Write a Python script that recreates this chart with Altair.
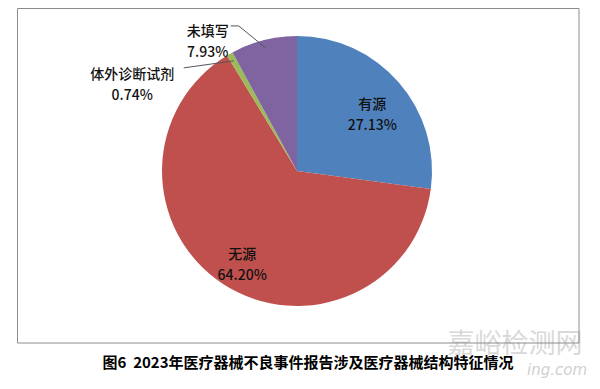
import altair as alt
import pandas as pd

# ---- data ----
categories = ["有源", "无源", "体外诊断试剂", "未填写"]
shares = [27.13, 64.20, 0.74, 7.93]
colors = ["#4F81BD", "#C0504D", "#9BBB59", "#8064A2"]
caption = "图6\u00a0\u00a02023年医疗器械不良事件报告涉及医疗器械结构特征情况"
watermark = "嘉峪检测网"
watermark2 = "ing.com"

df = pd.DataFrame({"cat": categories, "share": shares, "order": list(range(len(categories)))})

W, H = 584, 373
CX, CY, R = 289, 163, 135
FONT = "Noto Sans CJK SC"

base = (
    alt.Chart(df)
    .transform_window(cum="sum(share)", sort=[alt.SortField("order")], frame=[None, 0])
    .transform_joinaggregate(total="sum(share)")
    .transform_calculate(
        mid="(datum.cum - datum.share/2) / datum.total * 2 * PI",
        label="datum.cat + '|' + format(datum.share, '.2f') + '%'",
    )
    .transform_calculate(
        ex=f"{CX} + 127*sin(datum.mid)",
        ey=f"{CY} - 127*cos(datum.mid)",
        ix=f"{CX} + 100*sin(datum.mid)",
        iy=f"{CY} - 100*cos(datum.mid)",
    )
)

pie = (
    alt.Chart(df)
    .mark_arc(outerRadius=R)
    .encode(
        theta=alt.Theta("share:Q", stack=True),
        color=alt.Color("cat:N", scale=alt.Scale(domain=categories, range=colors), legend=None),
        order=alt.Order("order:Q"),
        x=alt.value(CX),
        y=alt.value(CY),
    )
)

txt_style = dict(lineBreak="|", lineHeight=21, fontSize=14, font=FONT, fontWeight=500, color="#111111")

inside = (
    base.transform_filter(alt.FieldOneOfPredicate(field="cat", oneOf=["有源", "无源"]))
    .mark_text(**txt_style)
    .encode(
        x=alt.X("ix:Q", scale=None, axis=None),
        y=alt.Y("iy:Q", scale=None, axis=None),
        text="label:N",
    )
)

def out_label(cat, dx, dy):
    return (
        base.transform_filter(alt.FieldEqualPredicate(field="cat", equal=cat))
        .mark_text(dx=dx, dy=dy, **txt_style)
        .encode(
            x=alt.X("ex:Q", scale=None, axis=None),
            y=alt.Y("ey:Q", scale=None, axis=None),
            text="label:N",
        )
    )

def leader(cat, x1off, y1off, x2off, y2off):
    return (
        base.transform_filter(alt.FieldEqualPredicate(field="cat", equal=cat))
        .transform_calculate(
            lx1=f"datum.ex + ({x1off})", ly1=f"datum.ey + ({y1off})",
            lx2=f"datum.ex + ({x2off})", ly2=f"datum.ey + ({y2off})",
        )
        .mark_rule(color="#555555", strokeWidth=1)
        .encode(
            x=alt.X("lx1:Q", scale=None, axis=None),
            y=alt.Y("ly1:Q", scale=None, axis=None),
            x2="lx2:Q",
            y2="ly2:Q",
        )
    )

ivd_text = out_label("体外诊断试剂", -101.5, 14.5)
ivd_line = leader("体外诊断试剂", 0, 0, -50, 7)
na_text = out_label("未填写", -58, -15.5)
na_line1 = leader("未填写", 0, 0, -27, -22)
na_line2 = leader("未填写", -27, -22, -35, -22)

one = alt.Data(values=[{}])

frame = (
    alt.Chart(one)
    .mark_rect(fill=None, stroke="#8c8c8c", strokeWidth=1)
    .encode(x=alt.value(9.5), x2=alt.value(571), y=alt.value(0.5), y2=alt.value(335))
)

wm = (
    alt.Chart(one)
    .mark_text(text=watermark, fontSize=27, font=FONT, color="#d9d9d9")
    .encode(x=alt.value(507), y=alt.value(337))
)
wm2 = (
    alt.Chart(one)
    .mark_text(text=watermark2, fontSize=15, font="DejaVu Sans", fontStyle="italic", color="#d0d0d0")
    .encode(x=alt.value(549), y=alt.value(362))
)

cap = (
    alt.Chart(one)
    .mark_text(text=caption, fontSize=15, font=FONT, fontWeight="bold", color="#000000")
    .encode(x=alt.value(300), y=alt.value(355))
)

chart = (
    alt.layer(wm, wm2, frame, pie, ivd_line, na_line1, na_line2, inside, ivd_text, na_text, cap)
    .properties(width=W, height=H, autosize="none", padding=0)
    .configure_view(stroke=None)
)

chart.save("out.html", embed_options={"renderer": "svg", "actions": False})
